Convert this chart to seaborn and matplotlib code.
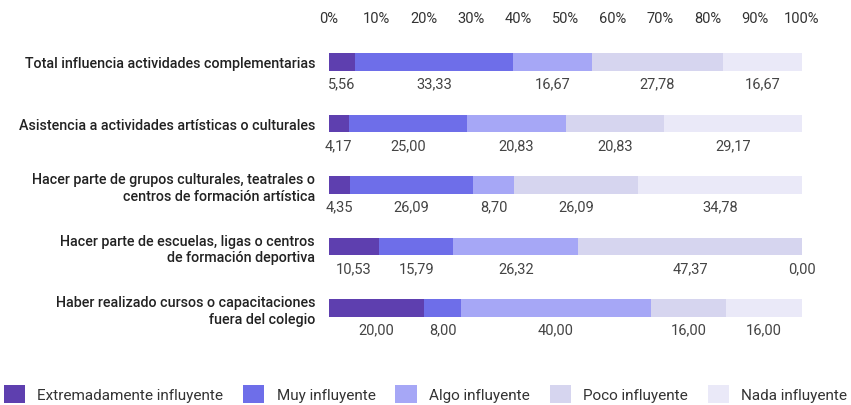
import matplotlib
matplotlib.use("Agg")
import matplotlib.pyplot as plt
import seaborn as sns
import pandas as pd
import numpy as np
from matplotlib.patches import Patch

categories = [
    "Total influencia actividades complementarias",
    "Asistencia a actividades artísticas o culturales",
    "Hacer parte de grupos culturales, teatrales o\ncentros de formación artística",
    "Hacer parte de escuelas, ligas o centros\nde formación deportiva",
    "Haber realizado cursos o capacitaciones\nfuera del colegio",
]
series_names = ["Extremadamente influyente", "Muy influyente", "Algo influyente",
                "Poco influyente", "Nada influyente"]
extremadamente = [5.56, 4.17, 4.35, 10.53, 20.00]
muy = [33.33, 25.00, 26.09, 15.79, 8.00]
algo = [16.67, 20.83, 8.70, 26.32, 40.00]
poco = [27.78, 20.83, 26.09, 47.37, 16.00]
nada = [16.67, 29.17, 34.78, 0.00, 16.00]
tick_labels = ["0%", "10%", "20%", "30%", "40%", "50%", "60%", "70%", "80%", "90%", "100%"]
colors = ["#5E3FAF", "#6E6EE9", "#A6A7F6", "#D6D5EF", "#EAE9F8"]

sns.set_theme(style="white")
plt.rcParams['font.family'] = ['Roboto', 'DejaVu Sans']

series = [extremadamente, muy, algo, poco, nada]
vals = np.array(series)
cum = np.cumsum(vals, axis=0)
starts = cum - vals

fig = plt.figure(figsize=(8.51, 4.06), dpi=100)
ax = fig.add_axes([329/851, 1-335/406, 473/851, 295/406])

# draw cumulative bars from longest to shortest so they stack
for i in reversed(range(len(series))):
    df = pd.DataFrame({"cat": categories, "val": cum[i]})
    sns.barplot(data=df, y="cat", x="val", orient="h", color=colors[i],
                width=0.29, ax=ax, saturation=1, linewidth=0)

for i in range(len(series)):
    for j in range(len(categories)):
        v = vals[i, j]
        ax.text(starts[i, j] + v/2, j + 0.35, f"{v:.2f}".replace(".", ","),
                ha="center", va="center", fontsize=10.5, color="#444444")

ax.set_xlim(0, 100)
ax.set_ylim(4.423, -0.374)
ax.set_xticks(np.arange(0, 101, 10))
ax.set_xticklabels(tick_labels, fontsize=10.5, color="#333333")
ax.xaxis.tick_top()
ax.tick_params(axis="x", length=0, pad=10)
ax.tick_params(axis="y", length=0, pad=10)
ax.set_yticks(range(len(categories)))
ax.set_yticklabels(categories, fontsize=10.3, color="#222222", fontweight="medium")
for lab in ax.get_yticklabels():
    lab.set_multialignment("right")
ax.set_xlabel("")
ax.set_ylabel("")
for s in ax.spines.values():
    s.set_visible(False)

handles = [Patch(facecolor=c, edgecolor="none", label=n) for c, n in zip(colors, series_names)]
fig.legend(handles=handles, loc="center", bbox_to_anchor=(0.5, 1-395/406), ncol=5,
           frameon=False, fontsize=11, handlelength=1.4, handleheight=1.4,
           columnspacing=1.3, handletextpad=0.8, labelcolor="#333333",
           borderpad=0, borderaxespad=0)

fig.savefig("out.png", dpi=100)
